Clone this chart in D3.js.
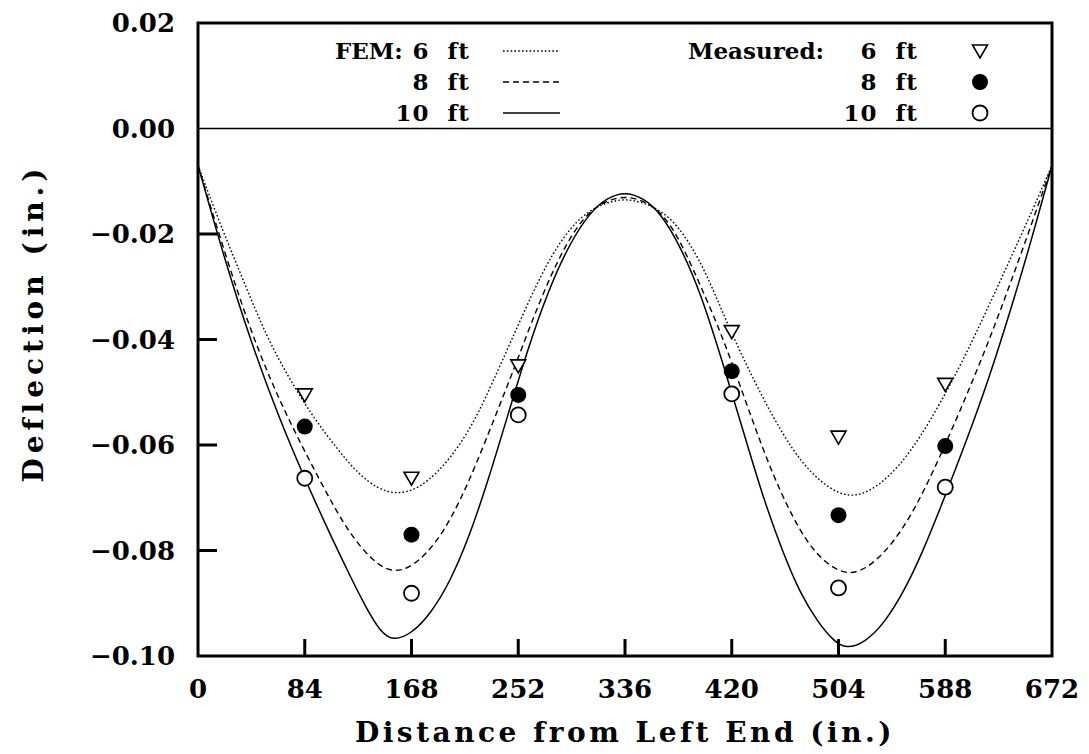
<!DOCTYPE html>
<html>
<head>
<meta charset="utf-8">
<script src="https://cdn.jsdelivr.net/npm/d3@7"></script>
<style>
  body { margin: 0; background: #fff; }
  text { font-family: "DejaVu Serif", serif; fill: #000; font-weight: bold; }
</style>
</head>
<body>
<div id="chart"></div>
<script>
// FEM curves (distance in., deflection in.)
const fem6X = [0, 18, 36, 54, 72, 90, 109, 125, 141, 157, 173, 189, 206, 220, 232, 246, 262, 278, 294, 308, 322, 336, 350, 364, 378, 394, 408, 422, 438, 452, 468, 482, 498, 513, 528, 544, 560, 576, 594, 612, 632, 652, 672];
const fem6Y = [-0.007, -0.0185, -0.029, -0.0395, -0.0475, -0.0545, -0.0606, -0.0652, -0.0683, -0.0694, -0.0683, -0.0652, -0.0601, -0.0543, -0.048, -0.0405, -0.0318, -0.024, -0.0185, -0.0155, -0.014, -0.0133, -0.014, -0.0155, -0.0185, -0.0245, -0.032, -0.04, -0.048, -0.0545, -0.061, -0.0652, -0.0685, -0.0699, -0.0689, -0.066, -0.0615, -0.0555, -0.0477, -0.039, -0.0285, -0.018, -0.007];

const fem8X = [0, 20, 40, 57, 75, 96, 115, 130, 143, 155, 167, 180, 193, 206, 219, 234, 248, 262, 278, 294, 308, 322, 336, 350, 364, 378, 394, 413, 432, 452, 474, 492, 510, 525, 540, 555, 570, 588, 610, 630, 650, 672];
const fem8Y = [-0.007, -0.0228, -0.0374, -0.0477, -0.057, -0.0668, -0.0752, -0.08, -0.083, -0.0841, -0.0832, -0.0806, -0.0765, -0.0707, -0.0636, -0.0545, -0.046, -0.037, -0.0275, -0.02, -0.0157, -0.0136, -0.0128, -0.0136, -0.0157, -0.0205, -0.029, -0.0395, -0.0525, -0.0657, -0.0768, -0.0822, -0.0847, -0.0836, -0.0805, -0.0758, -0.0694, -0.06, -0.0477, -0.0355, -0.0222, -0.007];

const fem10X = [0, 21, 42, 63, 84, 105, 120, 133, 143, 153, 168, 183, 198, 213, 228, 244, 260, 276, 292, 308, 322, 336, 350, 364, 380, 396, 412, 428, 444, 460, 474, 488, 500, 510, 525, 540, 555, 570, 589, 605, 622, 640, 656, 672];
const fem10Y = [-0.007, -0.0249, -0.0407, -0.0544, -0.0664, -0.0775, -0.085, -0.0912, -0.0952, -0.0972, -0.0958, -0.092, -0.0861, -0.0777, -0.067, -0.0542, -0.0414, -0.0305, -0.022, -0.016, -0.0131, -0.012, -0.0131, -0.016, -0.0225, -0.0315, -0.0437, -0.0565, -0.0695, -0.0803, -0.0882, -0.0937, -0.0971, -0.0987, -0.0974, -0.0938, -0.088, -0.0805, -0.069, -0.059, -0.0477, -0.034, -0.021, -0.007];

// measured deflections
const measX = [84, 168, 252, 420, 504, 588];
const meas6 = [-0.0505, -0.0663, -0.045, -0.0385, -0.0585, -0.0485];
const meas8 = [-0.0565, -0.077, -0.0505, -0.046, -0.0733, -0.0602];
const meas10 = [-0.0663, -0.0881, -0.0543, -0.0503, -0.0871, -0.068];

const xTicks = [0, 84, 168, 252, 336, 420, 504, 588, 672];
const yTicks = [0.02, 0.0, -0.02, -0.04, -0.06, -0.08, -0.1];
const spacings = ["6 ft", "8 ft", "10 ft"];

const width = 1089;
const height = 754;
const margin = { top: 23, right: 37, bottom: 98, left: 198 };
const w = width - margin.left - margin.right;
const h = height - margin.top - margin.bottom;

const svg = d3
  .select("#chart")
  .append("svg")
  .attr("width", width)
  .attr("height", height);

const g = svg
  .append("g")
  .attr("transform", `translate(${margin.left},${margin.top})`);

const x = d3.scaleLinear().domain([0, 672]).range([0, w]);
const y = d3.scaleLinear().domain([-0.1, 0.02]).range([h, 0]);

// inward ticks
g.selectAll(".ytick")
  .data(yTicks.filter((d) => d < 0.02 && d > -0.1 && d !== 0))
  .enter()
  .append("line")
  .attr("x1", 0)
  .attr("x2", 19)
  .attr("y1", (d) => y(d))
  .attr("y2", (d) => y(d))
  .attr("stroke", "#000")
  .attr("stroke-width", 3);

g.selectAll(".xtick")
  .data(xTicks.slice(1, -1))
  .enter()
  .append("line")
  .attr("x1", (d) => x(d))
  .attr("x2", (d) => x(d))
  .attr("y1", h)
  .attr("y2", h - 17)
  .attr("stroke", "#000")
  .attr("stroke-width", 3);

// zero line
g.append("line")
  .attr("x1", 0)
  .attr("x2", w)
  .attr("y1", y(0))
  .attr("y2", y(0))
  .attr("stroke", "#000")
  .attr("stroke-width", 1.6);

// tick labels
const fmtY = (d) => (d < 0 ? "\u2212" : "") + Math.abs(d).toFixed(2);
svg.selectAll(".ylab")
  .data(yTicks)
  .enter()
  .append("text")
  .attr("x", 175)
  .attr("y", (d) => margin.top + y(d))
  .attr("dy", "0.36em")
  .attr("text-anchor", "end")
  .style("font-size", "26px")
  .text(fmtY);

svg.selectAll(".xlab")
  .data(xTicks)
  .enter()
  .append("text")
  .attr("x", (d) => margin.left + x(d))
  .attr("y", 698)
  .attr("text-anchor", "middle")
  .style("font-size", "26px")
  .text((d) => d);

// axis titles
svg.append("text")
  .attr("x", margin.left + w / 2)
  .attr("y", 742)
  .attr("text-anchor", "middle")
  .style("font-size", "28px")
  .style("letter-spacing", "3.5px")
  .text("Distance from Left End (in.)");

svg.append("text")
  .attr("transform", `translate(43,323) rotate(-90)`)
  .attr("text-anchor", "middle")
  .style("font-size", "28px")
  .style("letter-spacing", "5px")
  .text("Deflection (in.)");

// FEM curves
const femSeries = [
  { xs: fem6X, ys: fem6Y, dash: "1.6,2.2", sw: 1.4 },
  { xs: fem8X, ys: fem8Y, dash: "6,4", sw: 1.4 },
  { xs: fem10X, ys: fem10Y, dash: null, sw: 1.5 },
];
const line = d3
  .line()
  .x((d) => x(d[0]))
  .y((d) => y(d[1]))
  .curve(d3.curveBasis);

femSeries.forEach((s) => {
  g.append("path")
    .datum(s.xs.map((v, i) => [v, s.ys[i]]))
    .attr("d", line)
    .attr("fill", "none")
    .attr("stroke", "#000")
    .attr("stroke-width", s.sw)
    .attr("stroke-dasharray", s.dash);
});

// marker drawing
function marker(sel, kind) {
  if (kind === 0) {
    sel.append("path")
      .attr("d", "M-7.5,-6 L7.5,-6 L0,7 Z")
      .attr("fill", "#fff")
      .attr("stroke", "#000")
      .attr("stroke-width", 1.6);
  } else if (kind === 1) {
    sel.append("circle").attr("r", 8).attr("fill", "#000");
  } else {
    sel.append("circle")
      .attr("r", 7.5)
      .attr("fill", "#fff")
      .attr("stroke", "#000")
      .attr("stroke-width", 1.8);
  }
}

[meas6, meas8, meas10].forEach((vals, k) => {
  g.selectAll(".m" + k)
    .data(vals)
    .enter()
    .append("g")
    .attr("transform", (d, i) => `translate(${x(measX[i])},${y(d)})`)
    .each(function () {
      marker(d3.select(this), k);
    });
});

// frame
g.append("rect")
  .attr("width", w)
  .attr("height", h)
  .attr("fill", "none")
  .attr("stroke", "#000")
  .attr("stroke-width", 3);

// legend
const rowY = [51, 82, 113];
svg.append("text")
  .attr("x", 335)
  .attr("y", rowY[0])
  .attr("dy", "0.36em")
  .style("font-size", "23px")
  .text("FEM:");
svg.append("text")
  .attr("x", 688)
  .attr("y", rowY[0])
  .attr("dy", "0.36em")
  .style("font-size", "23px")
  .text("Measured:");

spacings.forEach((lab, i) => {
  svg.append("text")
    .attr("x", 470)
    .attr("y", rowY[i])
    .attr("dy", "0.36em")
    .attr("text-anchor", "end")
    .style("font-size", "23px")
    .style("word-spacing", "9px")
    .style("letter-spacing", "1px")
    .text(lab);
  svg.append("line")
    .attr("x1", 503)
    .attr("x2", 560)
    .attr("y1", rowY[i])
    .attr("y2", rowY[i])
    .attr("stroke", "#000")
    .attr("stroke-width", femSeries[i].sw)
    .attr("stroke-dasharray", femSeries[i].dash);
  svg.append("text")
    .attr("x", 918)
    .attr("y", rowY[i])
    .attr("dy", "0.36em")
    .attr("text-anchor", "end")
    .style("font-size", "23px")
    .style("word-spacing", "9px")
    .style("letter-spacing", "1px")
    .text(lab);
  const mg = svg.append("g").attr("transform", `translate(980,${rowY[i]})`);
  marker(mg, i);
});
</script>
</body>
</html>
